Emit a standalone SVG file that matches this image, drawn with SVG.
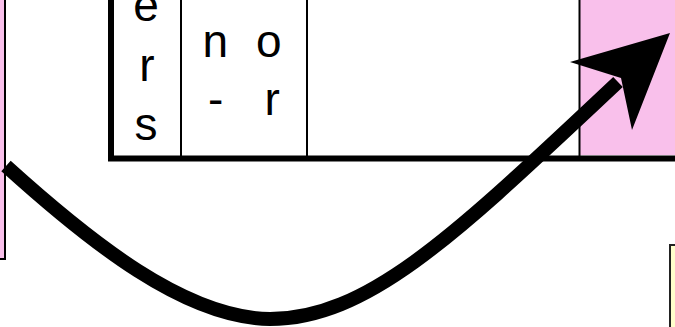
<svg xmlns="http://www.w3.org/2000/svg" width="675" height="327" viewBox="0 0 675 327">
<style>
.lbl{font-family:"Liberation Sans",Arial,sans-serif;font-size:46px;fill:#000}
.pink{fill:#f9c0eb}
.thin{stroke:#000;stroke-width:2;fill:none}
.thick{stroke:#000;stroke-width:6;fill:none}
.conn{stroke:#000;stroke-width:14;fill:none;stroke-linecap:butt}
</style>
<rect width="675" height="327" fill="#fff"/>
<g id="left-box">
<rect class="pink" x="-10" y="-10" width="15" height="269" stroke="#000" stroke-width="2"/>
</g>
<g id="table">
<rect class="pink" x="580" y="-10" width="100" height="165"/>
<line class="thin" x1="181" y1="-10" x2="181" y2="156"/>
<line class="thin" x1="307" y1="-10" x2="307" y2="156"/>
<line class="thin" x1="579.5" y1="-10" x2="579.5" y2="156"/>
<path class="thick" d="M111,-10 V158.5 H680"/>
<text class="lbl" x="146" y="21" text-anchor="middle">e</text>
<text class="lbl" x="147" y="81" text-anchor="middle">r</text>
<text class="lbl" x="146" y="140" text-anchor="middle">s</text>
<text class="lbl" x="202.5" y="57">n</text>
<text class="lbl" x="256" y="57">o</text>
<text class="lbl" x="208" y="115">-</text>
<text class="lbl" x="264.5" y="115">r</text>
</g>
<g id="note">
<rect x="670" y="245" width="20" height="100" fill="#ffffcc" stroke="#222" stroke-width="2"/>
</g>
<g id="connectors">
<path class="conn" d="M6,166 C90,242 185,318 270,319 C370,319 460,230 618,82"/>
<polygon points="670,33 570,62 621,78 632,130" fill="#000"/>
</g>
</svg>
